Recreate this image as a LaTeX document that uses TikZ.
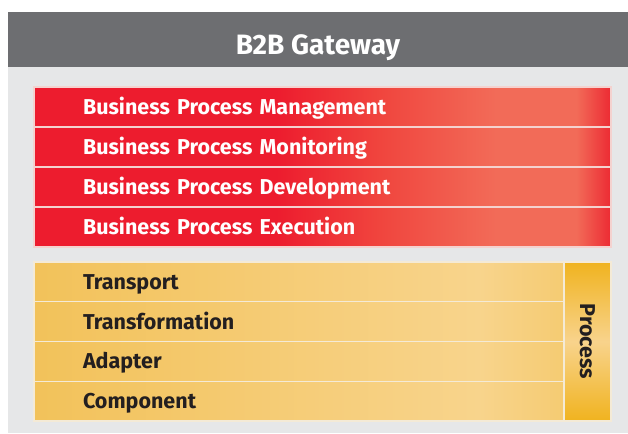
\documentclass[tikz,border=0pt]{standalone}
\usepackage{fontspec}
\setmainfont{Fira Sans}

\definecolor{gwgray}{HTML}{6D6E71}
\definecolor{panelgray}{HTML}{E6E7E8}
\definecolor{bpred}{HTML}{ED1C2E}
\definecolor{bpmid}{HTML}{F0453E}
\definecolor{bplight}{HTML}{F26B58}
\definecolor{bpedge}{HTML}{EC2A33}
\definecolor{bpsep}{HTML}{F4D2CF}
\definecolor{txdark}{HTML}{231F20}
\definecolor{ylleft}{HTML}{F2C25A}
\definecolor{yllight}{HTML}{F8D48C}
\definecolor{ylright}{HTML}{F5CB72}
\definecolor{ylsep}{HTML}{F4EAD6}
\definecolor{prgold}{HTML}{F0B31F}
\definecolor{prlight}{HTML}{F8D38C}

\pgfdeclarehorizontalshading{redfade}{100bp}{color(0bp)=(bpred); color(46bp)=(bpred);
  color(55bp)=(bpmid); color(65bp)=(bplight); color(72bp)=(bplight);
  color(75bp)=(bpedge); color(100bp)=(bpedge)}
\pgfdeclarehorizontalshading{yellowfade}{100bp}{color(0bp)=(ylleft); color(25bp)=(ylleft);
  color(67bp)=(yllight); color(75bp)=(ylright); color(100bp)=(ylright)}

\tikzset{
  rowfont/.style={font=\bfseries\fontsize{21.5}{21.5}\selectfont},
  rowbox/.style={minimum height=#1, inner xsep=49pt, inner ysep=0pt,
    text height=15pt, text depth=0pt, align=left, rowfont},
  redrow/.style={rowbox=40pt, shading=redfade, draw=bpsep, line width=1.2pt,
    text width=479pt, text=white},
  yellowrow/.style={rowbox=39.75pt, shading=yellowfade, draw=ylsep, line width=1.2pt,
    text width=432pt, text=txdark},
}

\begin{document}
\begin{tikzpicture}[x=1pt,y=-1pt]
    \useasboundingbox (0,0) rectangle (628,433);
    % Panel and header
    \fill[panelgray] (8,67) rectangle (628,433);
    \fill[gwgray] (8,12) rectangle (628,67);
    \node[anchor=base,text=white,font=\bfseries\fontsize{28}{28}\selectfont] (title) at (318,55) {B2B Gateway};
    % Business process layers
    \foreach \name/\label [count=\i from 0] in {bpman/Business Process Management,
        bpmon/Business Process Monitoring, bpdev/Business Process Development,
        bpexe/Business Process Execution}
        \node[redrow] (\name) at (322.5,{107+40*\i}) {\label};
    % Integration layers
    \foreach \name/\label [count=\i from 0] in {transport/Transport,
        transform/Transformation, adapter/Adapter, component/Component}
        \node[yellowrow] (\name) at (299,{281.875+39.75*\i}) {\label};
    % Process bar
    \node[draw=ylsep, line width=1.2pt, minimum width=47pt, minimum height=159pt,
        top color=prgold, bottom color=prgold, middle color=prlight] (process)
        at (587.5,341.5) {};
    \node[rotate=-90, text=txdark, rowfont] (processlabel) at (process.center) {Process};
\end{tikzpicture}
\end{document}
